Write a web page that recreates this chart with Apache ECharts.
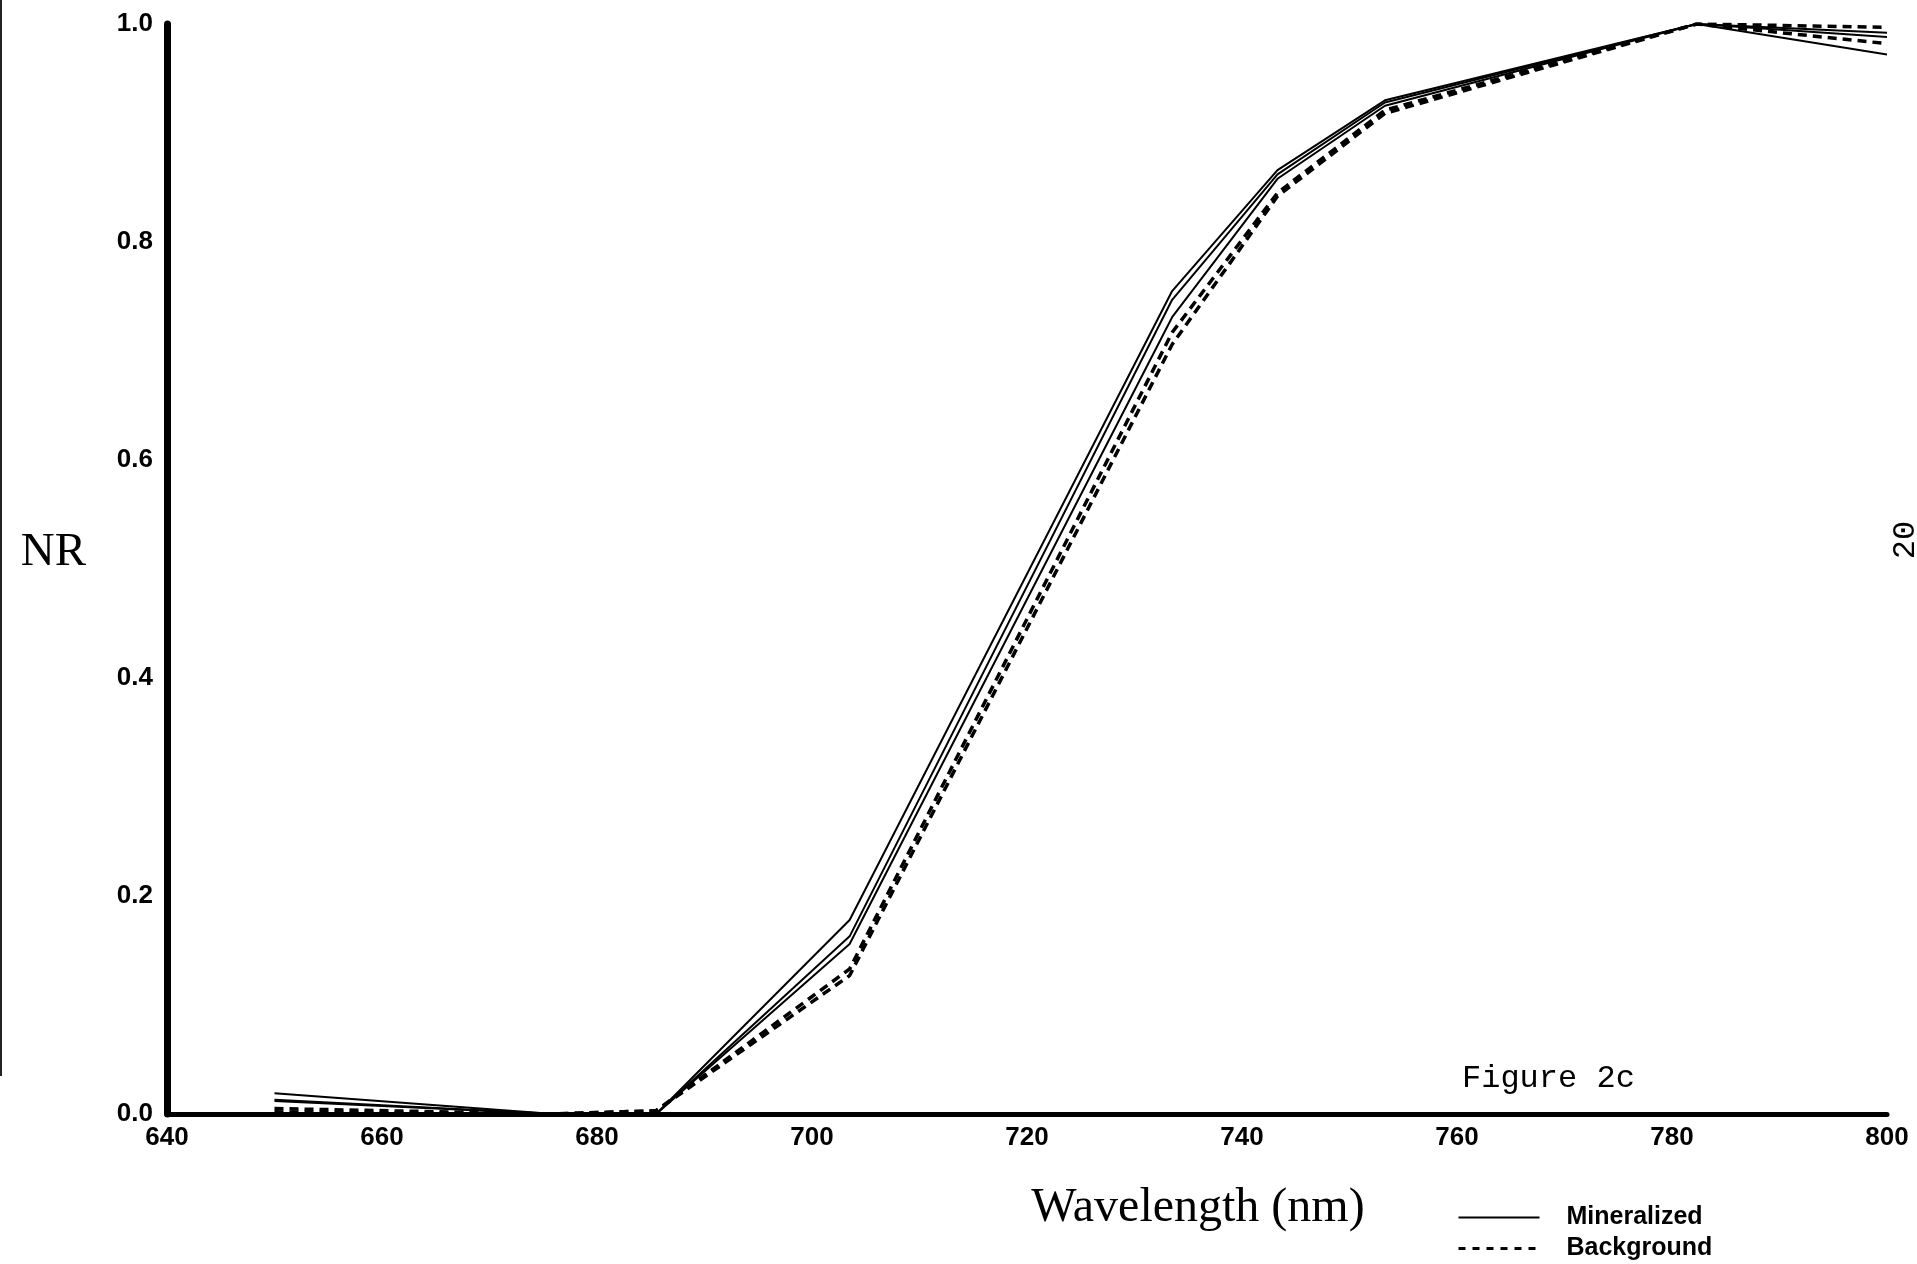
<!DOCTYPE html>
<html>
<head>
<meta charset="utf-8">
<title>Figure 2c</title>
<script src="https://cdn.jsdelivr.net/npm/echarts@6/dist/echarts.min.js"></script>
<style>
  html, body { margin: 0; padding: 0; background: #ffffff; }
  #chart { width: 1917px; height: 1264px; }
</style>
</head>
<body>
<div id="chart"></div>
<script>
// ---- data ----
const wavelengths = [650, 676, 685.5, 703.5, 733.5, 743.3, 753.3, 782.3, 800];

const mineralized1 = [0.019, 0.000, 0.000, 0.178, 0.755, 0.866, 0.930, 1.000, 0.972];
const mineralized2 = [0.013, 0.000, 0.000, 0.163, 0.747, 0.862, 0.928, 1.000, 0.992];
const mineralized3 = [0.012, 0.000, 0.000, 0.156, 0.731, 0.858, 0.925, 1.000, 0.988];
const background1  = [0.005, 0.000, 0.003, 0.133, 0.717, 0.845, 0.921, 1.000, 0.997];
const background2  = [0.002, 0.000, 0.003, 0.127, 0.706, 0.842, 0.918, 1.000, 0.982];

const seriesNames = ['Mineralized', 'Background'];
const xMin = 640, xMax = 800, xStep = 20;
const yMin = 0, yMax = 1.0, yStep = 0.2;

const SANS = '"Liberation Sans", Arial, Helvetica, sans-serif';
const SERIF = '"Liberation Serif", "Times New Roman", serif';
const MONO = '"Liberation Mono", "Courier New", monospace';

function pairs(vals) { return wavelengths.map((w, i) => [w, vals[i]]); }

function solid(name, vals) {
  return {
    type: 'line', name: name, data: pairs(vals), symbol: 'none',
    lineStyle: { color: '#000', width: 2, type: 'solid' },
    itemStyle: { color: '#000' }, z: 3
  };
}
function dashed(name, vals) {
  return {
    type: 'line', name: name, data: pairs(vals), symbol: 'none',
    lineStyle: { color: '#000', width: 3.5, type: [9, 6] },
    itemStyle: { color: '#000' }, z: 4
  };
}

const chart = echarts.init(document.getElementById('chart'), null, { renderer: 'canvas' });

const option = {
  backgroundColor: '#ffffff',
  animation: false,
  grid: { left: 167, right: 30, top: 24, bottom: 150, containLabel: false, outerBoundsMode: 'none' },
  xAxis: {
    type: 'value', min: xMin, max: xMax, interval: xStep,
    axisLine: { show: true, onZero: false, lineStyle: { color: '#000', width: 5 } },
    axisTick: { show: false },
    splitLine: { show: false },
    axisLabel: { color: '#000', fontFamily: SANS, fontWeight: 'bold', fontSize: 26, margin: 11 },
    name: 'Wavelength (nm)', nameLocation: 'middle', nameGap: 70,
    nameTextStyle: { color: '#000', fontFamily: SERIF, fontSize: 48, padding: [0, 0, 0, 342] }
  },
  yAxis: {
    type: 'value', min: yMin, max: yMax, interval: yStep,
    axisLine: { show: true, lineStyle: { color: '#000', width: 7 } },
    axisTick: { show: false },
    splitLine: { show: false },
    axisLabel: { color: '#000', fontFamily: SANS, fontWeight: 'bold', fontSize: 26, margin: 14,
      formatter: v => v.toFixed(1) },
    name: 'NR', nameLocation: 'middle', nameRotate: 0, nameGap: 81,
    nameTextStyle: { color: '#000', fontFamily: SERIF, fontSize: 47, verticalAlign: 'bottom', lineHeight: 32 }
  },
  legend: {
    orient: 'vertical', left: 1457, top: 1205, padding: 0,
    itemWidth: 81, itemHeight: 14, itemGap: 6,
    data: [
      { name: seriesNames[0], lineStyle: { width: 2 } },
      { name: seriesNames[1], lineStyle: { width: 3, type: [7, 7] } }
    ],
    itemStyle: { color: 'rgba(0,0,0,0)', borderColor: 'rgba(0,0,0,0)', borderWidth: 0, opacity: 0 },
    textStyle: { color: '#000', fontFamily: SANS, fontWeight: 'bold', fontSize: 25, padding: [0, 0, 0, 22] }
  },
  graphic: [
    { type: 'text', x: 1462, y: 1079,
      style: { text: 'Figure 2c', font: '32px ' + MONO, fill: '#000', align: 'left', verticalAlign: 'middle' } },
    { type: 'text', x: 1906, y: 540, rotation: Math.PI / 2,
      style: { text: '20', font: '32px ' + MONO, fill: '#000', align: 'center', verticalAlign: 'middle' } },
    { type: 'rect', shape: { x: 0, y: 0, width: 2, height: 1076 }, style: { fill: '#222' } }
  ],
  series: [
    solid(seriesNames[0], mineralized1),
    solid(seriesNames[0], mineralized2),
    solid(seriesNames[0], mineralized3),
    dashed(seriesNames[1], background1),
    dashed(seriesNames[1], background2)
  ]
};

chart.setOption(option);
</script>
</body>
</html>
